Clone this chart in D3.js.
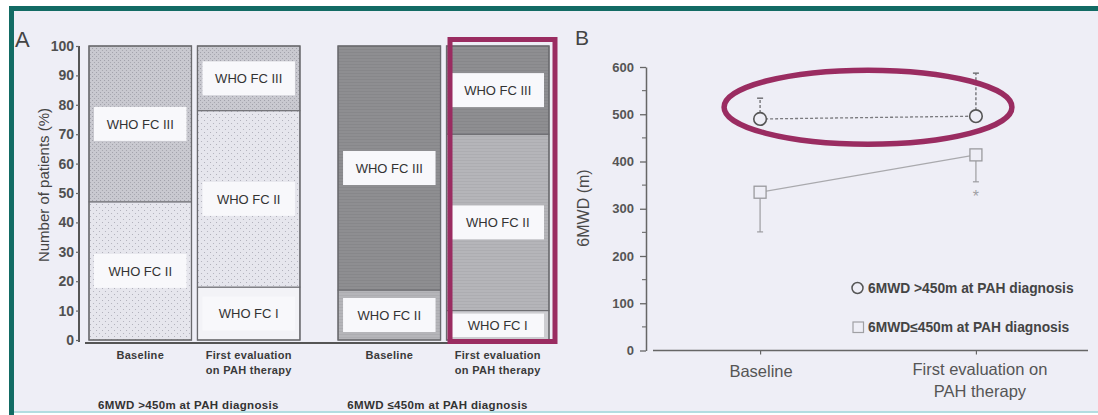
<!DOCTYPE html>
<html>
<head>
<meta charset="utf-8">
<script src="https://cdn.jsdelivr.net/npm/d3@7"></script>
<style>
  html, body { margin: 0; padding: 0; background: #ffffff; }
  svg { display: block; }
  text { font-family: "Liberation Sans", Arial, sans-serif; }
</style>
</head>
<body>
<script>
// ---------- Panel A: WHO functional class distribution (% of patients) ----------
const fcClasses = ["WHO FC I", "WHO FC II", "WHO FC III"];
const cohorts = ["6MWD >450m at PAH diagnosis", "6MWD \u2264450m at PAH diagnosis"];
const timepoints = ["Baseline", "First evaluation on PAH therapy"];
const timepointLinesA = [["Baseline"], ["First evaluation", "on PAH therapy"]];
const percentTicks = [0, 10, 20, 30, 40, 50, 60, 70, 80, 90, 100];

// FC I, FC II, FC III shares per bar
const gt450Baseline = [0, 47, 53];
const gt450First = [18, 60, 22];
const le450Baseline = [0, 17, 83];
const le450First = [10, 60, 30];

// ---------- Panel B: 6MWD (m), mean with one-sided SD ----------
const timepointsB = ["Baseline", "First evaluation on PAH therapy"];
const timepointLinesB = [["Baseline"], ["First evaluation on", "PAH therapy"]];
const distanceTicks = [0, 100, 200, 300, 400, 500, 600];
const gt450Mean = [490, 496];
const gt450SD = [44, 91];
const le450Mean = [335, 414];
const le450SD = [84, 57];
const le450Significant = [false, true];
const legendLabels = ["6MWD >450m at PAH diagnosis", "6MWD\u2264450m at PAH diagnosis"];

const W = 1098, H = 415;
const svg = d3.select("body").append("svg").attr("width", W).attr("height", H);

// page frame
svg.append("rect").attr("width", W).attr("height", H).attr("fill", "#ffffff");
svg.append("rect").attr("x", 14).attr("y", 11).attr("width", W - 14).attr("height", 400).attr("fill", "#eeeef6");
svg.append("rect").attr("x", 9).attr("y", 6).attr("width", W - 9).attr("height", 5).attr("fill", "#126b64");
svg.append("rect").attr("x", 9).attr("y", 6).attr("width", 5).attr("height", H - 6).attr("fill", "#126b64");
svg.append("rect").attr("x", 14).attr("y", 411).attr("width", W - 14).attr("height", 2).attr("fill", "#b3dde1");

// stipple patterns
const defs = svg.append("defs");
function dotPattern(id, base, dot, step, r) {
  const p = defs.append("pattern").attr("id", id).attr("patternUnits", "userSpaceOnUse")
    .attr("width", step * 2).attr("height", step * 2);
  p.append("rect").attr("width", step * 2).attr("height", step * 2).attr("fill", base);
  [[0.5, 0.5], [step + 0.5, step + 0.5]].forEach(([cx, cy]) =>
    p.append("circle").attr("cx", cx).attr("cy", cy).attr("r", r).attr("fill", dot));
  return `url(#${id})`;
}
function linePattern(id, base, line) {
  const p = defs.append("pattern").attr("id", id).attr("patternUnits", "userSpaceOnUse")
    .attr("width", 6).attr("height", 3);
  p.append("rect").attr("width", 6).attr("height", 3).attr("fill", base);
  p.append("rect").attr("y", 1).attr("width", 6).attr("height", 0.6).attr("fill", line).attr("opacity", 0.35);
  return `url(#${id})`;
}
const fillsByCohort = [
  ["#f3f3f7", dotPattern("dotsLight", "#e6e6ed", "#aeaeb8", 3, 0.55), dotPattern("dotsMid", "#c9c9d0", "#a2a2ab", 2, 0.6)],
  ["#cdcdd1", linePattern("linesMid", "#b5b5b9", "#8f8f93"), linePattern("linesDark", "#8e8e91", "#6d6d70")]
];

// ---------- Panel A drawing ----------
const yA = d3.scaleLinear().domain([0, 100]).range([340, 46]);
const xCohort = d3.scaleBand().domain(cohorts).range([89, 549]).paddingInner(0.153).paddingOuter(0);
const xTime = d3.scaleBand().domain(timepoints).range([0, xCohort.bandwidth()]).paddingInner(0.055).paddingOuter(0);

const barsA = [
  { cohort: cohorts[0], time: timepoints[0], values: gt450Baseline },
  { cohort: cohorts[0], time: timepoints[1], values: gt450First },
  { cohort: cohorts[1], time: timepoints[0], values: le450Baseline },
  { cohort: cohorts[1], time: timepoints[1], values: le450First }
];

const gA = svg.append("g");
barsA.forEach(bar => {
  const bx = xCohort(bar.cohort) + xTime(bar.time);
  const bw = xTime.bandwidth();
  const ci = cohorts.indexOf(bar.cohort);
  let cum = 0;
  const segs = bar.values.map((v, i) => { const s = { i, v, y0: cum, y1: cum + v }; cum += v; return s; });
  const g = gA.append("g");
  g.selectAll("rect.seg").data(segs.filter(s => s.v > 0)).join("rect")
    .attr("class", "seg")
    .attr("x", bx).attr("width", bw)
    .attr("y", s => yA(s.y1)).attr("height", s => yA(s.y0) - yA(s.y1))
    .attr("fill", s => fillsByCohort[ci][s.i])
    .attr("stroke", "#6a6a6e").attr("stroke-width", 1);
  // label boxes
  const lab = g.selectAll("g.lab").data(segs.filter(s => s.v > 0)).join("g").attr("class", "lab");
  lab.append("rect")
    .attr("x", bx + 5).attr("width", bw - 10)
    .attr("height", s => Math.min(34, yA(s.y0) - yA(s.y1) - 6))
    .attr("y", s => yA((s.y0 + s.y1) / 2) - Math.min(34, yA(s.y0) - yA(s.y1) - 6) / 2)
    .attr("fill", "#f8f8fb");
  lab.append("text")
    .attr("x", bx + bw / 2).attr("y", s => yA((s.y0 + s.y1) / 2))
    .attr("dy", "0.36em").attr("text-anchor", "middle")
    .attr("font-family", "'Open Sans', sans-serif").attr("font-size", 13).attr("fill", "#333")
    .text(s => fcClasses[s.i]);
  // bar outline
  g.append("rect").attr("x", bx).attr("y", yA(100)).attr("width", bw).attr("height", yA(0) - yA(100))
    .attr("fill", "none").attr("stroke", "#6a6a6e").attr("stroke-width", 1.3);
  // category label
  const tl = timepointLinesA[timepoints.indexOf(bar.time)];
  g.append("text").attr("x", bx + bw / 2).attr("y", 359).attr("text-anchor", "middle")
    .attr("font-size", 11).attr("font-weight", "bold").attr("letter-spacing", 0.3).attr("fill", "#3a3a3a")
    .selectAll("tspan").data(tl).join("tspan")
    .attr("x", bx + bw / 2).attr("dy", (d, i) => i === 0 ? 0 : 15).text(d => d);
});

// cohort labels
cohorts.forEach(c => {
  gA.append("text").attr("x", xCohort(c) + xCohort.bandwidth() / 2 - 6).attr("y", 409)
    .attr("text-anchor", "middle").attr("font-size", 11.5).attr("font-weight", "bold")
    .attr("letter-spacing", 0.35).attr("fill", "#333").text(c);
});

// axes
const yAxisA = d3.axisLeft(yA).tickValues(percentTicks).tickSize(3).tickPadding(2).tickSizeOuter(0);
const gy = svg.append("g").attr("transform", "translate(79,0)").call(yAxisA);
gy.select(".domain").attr("stroke", "#555").attr("stroke-width", 2).attr("d", `M0,${yA(100)}V${yA(0) + 2}`);
gy.selectAll(".tick line").attr("stroke", "#666").attr("stroke-width", 1.2);
gy.selectAll(".tick text").attr("font-size", 14).attr("font-weight", "bold").attr("fill", "#505050")
  .attr("font-family", "'Liberation Sans', Arial, sans-serif");
svg.append("line").attr("x1", 85).attr("x2", 553).attr("y1", 343).attr("y2", 343)
  .attr("stroke", "#555").attr("stroke-width", 2);
svg.append("text").attr("transform", "translate(49,185) rotate(-90)").attr("text-anchor", "middle")
  .attr("font-size", 15).attr("fill", "#444").text("Number of patients (%)");
svg.append("text").attr("x", 15).attr("y", 47).attr("font-size", 22).attr("fill", "#444").text("A");

// highlight frame around the last bar
{
  const bx = xCohort(cohorts[1]) + xTime(timepoints[1]);
  const bw = xTime.bandwidth();
  svg.append("rect").attr("x", bx + 3.5).attr("y", yA(100) - 6.5)
    .attr("width", bw + 2.5).attr("height", yA(0) - yA(100) + 8)
    .attr("fill", "none").attr("stroke", "#9a2c61").attr("stroke-width", 5);
}

// ---------- Panel B drawing ----------
const yB = d3.scaleLinear().domain([0, 600]).range([350.5, 67]);
const xB = d3.scalePoint().domain(timepointsB).range([650, 1086]).padding(0.51);
const gB = svg.append("g");

svg.append("text").attr("x", 575).attr("y", 45).attr("font-size", 21).attr("fill", "#444").text("B");

// y axis with minor ticks
const yAxisB = d3.axisLeft(yB).tickValues(distanceTicks).tickSize(6).tickPadding(6).tickSizeOuter(0);
const gyB = gB.append("g").attr("transform", "translate(646,0)").call(yAxisB);
gyB.select(".domain").attr("stroke", "#666").attr("stroke-width", 1.5);
gyB.selectAll(".tick line").attr("stroke", "#666").attr("stroke-width", 1.3);
gyB.selectAll(".tick text").attr("font-size", 13).attr("font-weight", "bold").attr("fill", "#555")
  .attr("font-family", "'Liberation Sans', Arial, sans-serif");
gyB.selectAll("line.minor").data(d3.range(50, 600, 100)).join("line").attr("class", "minor")
  .attr("x1", -4).attr("x2", 0).attr("y1", d => yB(d)).attr("y2", d => yB(d))
  .attr("stroke", "#777").attr("stroke-width", 1.2);
gB.append("text").attr("transform", "translate(589,208) rotate(-90)").attr("text-anchor", "middle")
  .attr("font-size", 16).attr("fill", "#4a4a4a").text("6MWD (m)");

// x axis
const xAxisB = d3.axisBottom(xB).tickSize(4).tickSizeOuter(0).tickFormat("");
const gxB = gB.append("g").attr("transform", `translate(0,${yB(0)})`).call(xAxisB);
gxB.select(".domain").attr("stroke", "#666").attr("stroke-width", 1.5).attr("d", "M653,0H1088");
gxB.selectAll(".tick line").attr("stroke", "#666").attr("stroke-width", 1.2);
timepointsB.forEach((t, i) => {
  gB.append("text").attr("y", 377).attr("text-anchor", "middle").attr("font-size", 16.5).attr("fill", "#555")
    .selectAll("tspan").data(timepointLinesB[i]).join("tspan")
    .attr("x", xB(t) + (i === 0 ? 1 : 4)).attr("dy", (d, k) => k === 0 ? (i === 0 ? 0 : -2) : 22).text(d => d);
});

const bg = "#eeeef6";
// ≤450 m cohort: solid light grey line, squares, lower SD bars
const le450 = timepointsB.map((t, i) => ({ t, m: le450Mean[i], sd: le450SD[i], sig: le450Significant[i] }));
gB.append("path").datum(le450)
  .attr("d", d3.line().x(d => xB(d.t)).y(d => yB(d.m)))
  .attr("fill", "none").attr("stroke", "#a9a9ad").attr("stroke-width", 1.2);
le450.forEach(d => {
  const x = xB(d.t), y0 = yB(d.m), y1 = yB(d.m - d.sd);
  gB.append("line").attr("x1", x).attr("x2", x).attr("y1", y0 + 6).attr("y2", y1)
    .attr("stroke", "#9c9ca0").attr("stroke-width", 1.2);
  gB.append("line").attr("x1", x - 3).attr("x2", x + 3).attr("y1", y1).attr("y2", y1)
    .attr("stroke", "#9c9ca0").attr("stroke-width", 1.2);
  gB.append("rect").attr("x", x - 6).attr("y", y0 - 6).attr("width", 12).attr("height", 12)
    .attr("fill", bg).attr("stroke", "#9a9a9e").attr("stroke-width", 1.3);
  if (d.sig) {
    gB.append("text").attr("x", x).attr("y", y1 + 20).attr("text-anchor", "middle")
      .attr("font-size", 16).attr("fill", "#a0a0a4").text("*");
  }
});

// >450 m cohort: dashed dark line, circles, upper SD bars
const gt450 = timepointsB.map((t, i) => ({ t, m: gt450Mean[i], sd: gt450SD[i] }));
gB.append("path").datum(gt450)
  .attr("d", d3.line().x(d => xB(d.t)).y(d => yB(d.m)))
  .attr("fill", "none").attr("stroke", "#7a7a7e").attr("stroke-width", 1.3).attr("stroke-dasharray", "3,2");
gt450.forEach(d => {
  const x = xB(d.t), y0 = yB(d.m), y1 = yB(d.m + d.sd);
  gB.append("line").attr("x1", x).attr("x2", x).attr("y1", y0 - 6).attr("y2", y1)
    .attr("stroke", "#6a6a6e").attr("stroke-width", 1.3).attr("stroke-dasharray", "3,2");
  gB.append("line").attr("x1", x - 3).attr("x2", x + 3).attr("y1", y1).attr("y2", y1)
    .attr("stroke", "#6a6a6e").attr("stroke-width", 1.4);
  gB.append("circle").attr("cx", x).attr("cy", y0).attr("r", 6.3)
    .attr("fill", bg).attr("stroke", "#555").attr("stroke-width", 1.6);
});

// highlight ellipse around the >450 m cohort
{
  const x0 = xB(timepointsB[0]), x1 = xB(timepointsB[1]);
  svg.append("ellipse").attr("cx", (x0 + x1) / 2).attr("cy", yB(515))
    .attr("rx", (x1 - x0) / 2 + 36).attr("ry", 37)
    .attr("fill", "none").attr("stroke", "#9a2c61").attr("stroke-width", 5.5);
}

// legend
const leg = gB.append("g");
leg.append("circle").attr("cx", 857.5).attr("cy", 288).attr("r", 5.5)
  .attr("fill", bg).attr("stroke", "#555").attr("stroke-width", 1.5);
leg.append("rect").attr("x", 853).attr("y", 322).attr("width", 10.5).attr("height", 10.5)
  .attr("fill", bg).attr("stroke", "#a0a0a4").attr("stroke-width", 1.2);
legendLabels.forEach((l, i) => {
  leg.append("text").attr("x", 868).attr("y", i === 0 ? 288 : 327).attr("dy", "0.36em")
    .attr("font-size", 13.8).attr("font-weight", "bold").attr("fill", "#444").text(l);
});
</script>
</body>
</html>
